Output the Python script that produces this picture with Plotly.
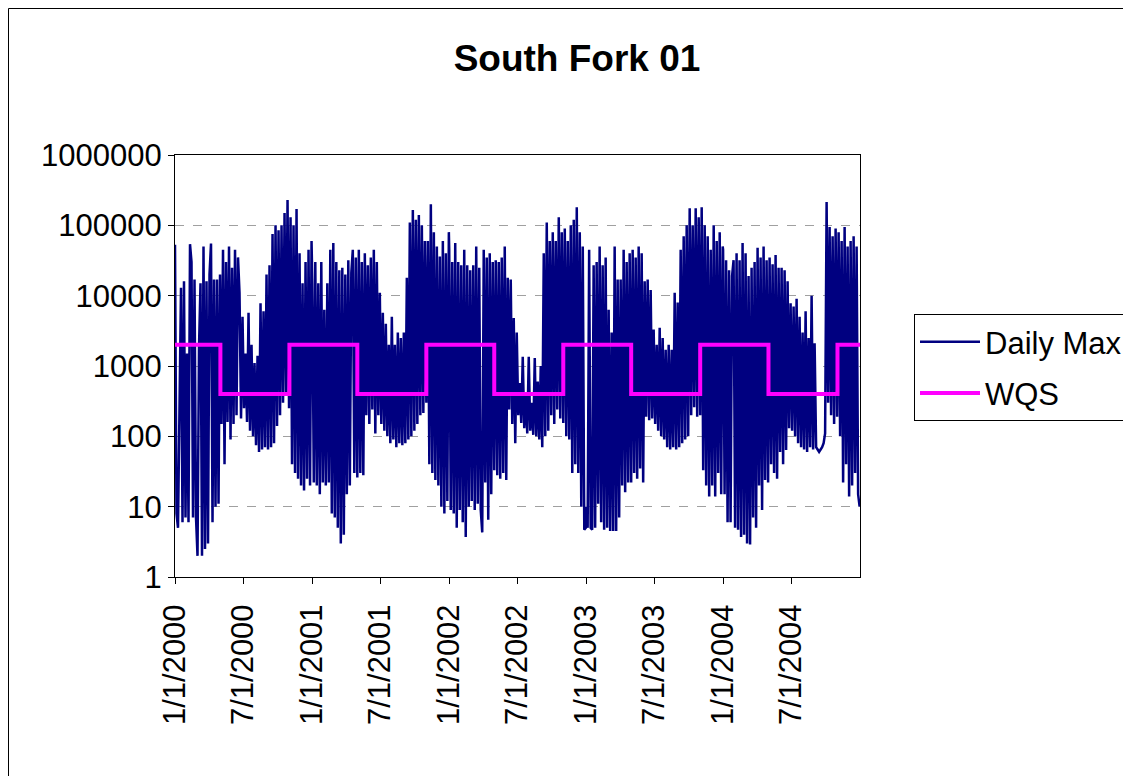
import pandas as pd
import plotly.graph_objects as go

title_text = "South Fork 01"
series_names = ["Daily Max", "WQS"]

y_tick_values = [1, 10, 100, 1000, 10000, 100000, 1000000]
y_tick_labels = ["1", "10", "100", "1000", "10000", "100000", "1000000"]

x_tick_dates = ["2000-01-01", "2000-07-01", "2001-01-01", "2001-07-01", "2002-01-01",
                "2002-07-01", "2003-01-01", "2003-07-01", "2004-01-01", "2004-07-01"]
x_tick_labels = ["1/1/2000", "7/1/2000", "1/1/2001", "7/1/2001", "1/1/2002",
                 "7/1/2002", "1/1/2003", "7/1/2003", "1/1/2004", "7/1/2004"]

# Daily Max readings, sampled every 4 days from Jan 1 of each year (rows ~ months)
daily_max_2000 = [
    53000, 8, 5, 900, 13000, 6, 16000, 7,
    1500, 6, 54000, 30000, 7, 17000, 7,
    2, 1900, 15000, 2, 50000, 2.5, 16000, 3,
    20000, 55000, 6, 17000, 10, 17000, 11,
    20000, 150, 45000, 40, 30000, 160, 50000, 90,
    25000, 150, 45000, 200, 35000, 11000, 180,
    5000, 250, 1500, 160, 5700, 120, 2000, 100,
    1100, 75, 1400, 60, 7800, 65, 6000, 70,
    20000, 65, 27000, 70, 75000, 80, 100000,
    140, 85000, 200, 100000, 300, 150000, 400, 230000,
    250, 130000, 40, 100000, 30, 170000, 25, 40000,
    20, 15000, 17, 30000, 25, 45000, 20, 60000,
]
daily_max_2001 = [
    15000, 22, 30000, 20, 15000, 15, 30000, 22,
    6300, 20, 15000, 22, 45000, 8, 56000,
    7, 30000, 5, 23000, 3, 25000, 4, 20000,
    15, 32000, 20, 21000, 45000, 30, 35000,
    26, 45000, 30, 30000, 28, 40000, 200, 27000,
    150, 35000, 240, 45000, 110, 30000, 200,
    11000, 150, 5700, 120, 4000, 100, 2000, 80,
    5000, 90, 2000, 70, 3000, 80, 2500, 75,
    3000, 80, 18000, 90, 110000, 100, 165000,
    120, 120000, 150, 140000, 200, 100000, 215, 60000,
    300, 60000, 40, 200000, 30, 80000, 24, 50000,
    20, 36000, 10, 60000, 8, 40000, 12, 80000,
]
daily_max_2002 = [
    45000, 9, 30000, 8, 56000, 5, 30000, 9,
    27000, 6, 45000, 3.7, 27000, 10, 23000,
    12, 27000, 9, 50000, 11, 25000, 9, 4.3,
    45000, 22, 35000, 6.5, 40000, 15, 30000,
    33, 32000, 28, 30000, 25, 35000, 30, 50000,
    24, 18000, 240, 17000, 150, 4800, 80,
    3000, 200, 570, 155, 1350, 130, 400, 110,
    1350, 120, 300, 105, 1300, 100, 600, 90,
    1000, 70, 40000, 100, 110000, 120, 60000,
    200, 80000, 150, 60000, 240, 130000, 180, 80000,
    155, 90000, 100, 60000, 90, 100000, 30, 120000,
    40, 180000, 30, 80000, 10, 50000, 4.7, 5,
]
daily_max_2003 = [
    10, 5, 45000, 5, 4.7, 27000, 5, 30000,
    11, 50000, 6, 27000, 4.7, 35000, 5,
    6300, 4.5, 3000, 4.5, 50000, 4.5, 17000, 7,
    17000, 20, 45000, 16, 30000, 22, 40000,
    22, 45000, 30, 35000, 25, 50000, 35, 40000,
    22, 16000, 190, 17000, 170, 12000, 180,
    3300, 150, 2000, 120, 3500, 100, 2500, 90,
    1700, 70, 2000, 65, 1700, 70, 11000, 65,
    8000, 70, 45000, 80, 70000, 90, 100000,
    100, 175000, 200, 100000, 260, 175000, 190, 130000,
    200, 180000, 33, 100000, 20, 70000, 14, 45000,
    20, 100000, 14, 60000, 30, 80000, 15, 50000,
]
daily_max_2004 = [
    45000, 15, 32000, 6, 23000, 6, 19000, 32000,
    5, 40000, 4.7, 32000, 3.7, 56000, 4,
    40000, 3, 19000, 2.9, 25000, 7, 30000, 5,
    48000, 20, 35000, 9, 50000, 24, 32000,
    22, 35000, 40, 28000, 30, 38000, 25, 25000,
    60, 25000, 40, 23000, 64, 16000, 130,
    7800, 120, 7000, 100, 9000, 80, 5000, 70,
    3000, 65, 6000, 60, 2500, 70, 10000, 65,
    2100, 70, 65, 60, 65, 70, 80,
    110, 215000, 300, 95000, 200, 70000, 150, 90000,
    190, 80000, 100, 60000, 22, 95000, 40, 50000,
    14, 60000, 20, 70000, 30, 50000, 15, 10,
]

# Water quality standard: season breakpoints and values
wqs_dates = ["2000-01-01", "2000-05-01", "2000-11-01", "2001-05-01", "2001-11-01",
             "2002-05-01", "2002-11-01", "2003-05-01", "2003-11-01", "2004-05-01",
             "2004-11-01", "2004-12-31"]
wqs_values = [2000, 400, 2000, 400, 2000, 400, 2000, 400, 2000, 400, 2000, 2000]

years = [2000, 2001, 2002, 2003, 2004]
yearly = [daily_max_2000, daily_max_2001, daily_max_2002, daily_max_2003, daily_max_2004]

dm_dates = []
dm_values = []
for yr, vals in zip(years, yearly):
    dr = pd.date_range(f"{yr}-01-01", periods=len(vals), freq="4D")
    dm_dates.extend(dr)
    dm_values.extend(vals)

FONT = "Liberation Sans, Arial, sans-serif"
W, H = 1131, 776
L, R, T, B = 167, 852, 147, 569  # plot area in figure pixels

fig = go.Figure()
fig.add_trace(go.Scatter(x=dm_dates, y=dm_values, mode="lines", name=series_names[0],
                         legendgroup="a", line=dict(color="#000080", width=2.5)))
fig.add_trace(go.Scatter(x=wqs_dates, y=wqs_values, mode="lines", name=series_names[1],
                         legendgroup="b", line=dict(color="#FF00FF", width=4, shape="hv")))

pw = R - L
ph = B - T
fig.update_layout(
    width=W, height=H,
    margin=dict(l=L, r=W - R, t=T, b=H - B, autoexpand=False),
    paper_bgcolor="white", plot_bgcolor="white",
    font=dict(family=FONT, size=31, color="black"),
    title=dict(text="<b>" + title_text + "</b>", xref="container", yref="container",
               x=569 / W, y=1 - 50 / H, xanchor="center", yanchor="middle",
               font=dict(family=FONT, size=37, color="black")),
    legend=dict(x=(906 - L) / pw, y=(B - 306) / ph, xanchor="left", yanchor="top",
                bordercolor="black", borderwidth=1, bgcolor="white",
                font=dict(family=FONT, size=31, color="black"), itemwidth=60,
                tracegroupgap=8),
    showlegend=True,
    shapes=[dict(type="rect", xref="paper", yref="paper",
                 x0=(0.5 - L) / pw, x1=2.0, y0=-2.0, y1=(B - 0.5) / ph,
                 line=dict(color="black", width=1), fillcolor="rgba(0,0,0,0)", layer="below")],
)
fig.update_xaxes(type="date", range=["2000-01-01", "2004-12-31"],
                 tickvals=x_tick_dates, ticktext=x_tick_labels, tickangle=-90,
                 ticks="outside", ticklen=6, tickcolor="black", ticklabelstandoff=8,
                 showline=True, linecolor="black", linewidth=1, mirror=True,
                 showgrid=False, zeroline=False)
fig.update_yaxes(type="log", range=[0, 6], tickvals=y_tick_values, ticktext=y_tick_labels,
                 ticks="outside", ticklen=6, tickcolor="black",
                 showline=True, linecolor="black", linewidth=1, mirror=True,
                 showgrid=True, gridcolor="#a0a0a0", griddash="dash", gridwidth=1,
                 zeroline=False)

fig.write_html("out.html")
